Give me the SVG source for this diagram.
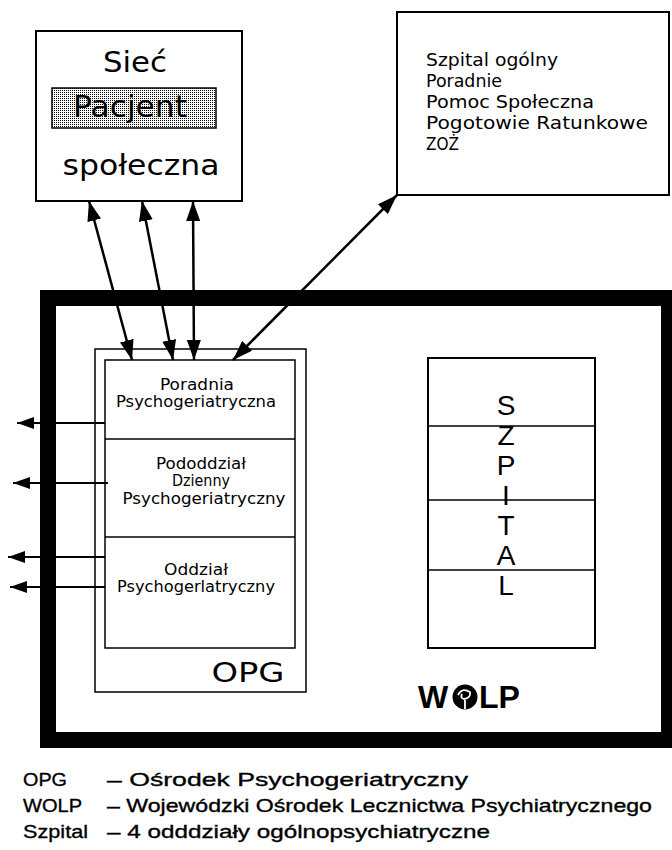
<svg xmlns="http://www.w3.org/2000/svg" width="672" height="850" viewBox="0 0 672 850">
<style>
.box{fill:#fff;stroke:#000;stroke-width:2}
.thin{fill:none;stroke:#000;stroke-width:1.5}
.g{font-family:"DejaVu Sans","Liberation Sans",sans-serif;fill:#000}
.leg{font-family:"Liberation Sans",Arial,sans-serif;font-size:19px;fill:#000;stroke:#000;stroke-width:0.35}
.conn{stroke:#000;stroke-width:2.5;fill:none}
.lconn{stroke:#000;stroke-width:2;fill:none}
</style>
<defs>
<pattern id="stip" width="2" height="2" patternUnits="userSpaceOnUse">
<rect width="2" height="2" fill="#fff"/>
<rect width="1" height="1" fill="#000"/>
</pattern>
<marker id="ah" markerUnits="userSpaceOnUse" markerWidth="20" markerHeight="14" refX="20" refY="7" orient="auto-start-reverse">
<path d="M0,0 L20,7 L0,14 z" fill="#000"/>
</marker>
<marker id="ahs" markerUnits="userSpaceOnUse" markerWidth="17" markerHeight="12" refX="17" refY="6" orient="auto">
<path d="M0,0 L17,6 L0,12 z" fill="#000"/>
</marker>
</defs>
<rect width="672" height="850" fill="#fff"/>

<g id="siec">
<rect class="box" x="36" y="31" width="206" height="170"/>
<text class="g" x="135" y="72" font-size="28" text-anchor="middle" textLength="64" lengthAdjust="spacingAndGlyphs">Sieć</text>
<rect x="52" y="88" width="164" height="40" fill="url(#stip)" stroke="#000" stroke-width="1.5"/>
<text class="g" x="130" y="117" font-size="30" text-anchor="middle" textLength="114" lengthAdjust="spacingAndGlyphs">Pacjent</text>
<text class="g" x="141" y="175" font-size="28" text-anchor="middle" textLength="157" lengthAdjust="spacingAndGlyphs">społeczna</text>
</g>

<g id="instytucje">
<rect class="box" x="397" y="12" width="272" height="183"/>
<g class="g" font-size="18">
<text x="426" y="66" textLength="132" lengthAdjust="spacingAndGlyphs">Szpital ogólny</text>
<text x="426" y="87" textLength="76" lengthAdjust="spacingAndGlyphs">Poradnie</text>
<text x="426" y="108" textLength="168" lengthAdjust="spacingAndGlyphs">Pomoc Społeczna</text>
<text x="426" y="129" textLength="222" lengthAdjust="spacingAndGlyphs">Pogotowie Ratunkowe</text>
<text x="426" y="150" textLength="33" lengthAdjust="spacingAndGlyphs">ZOŻ</text>
</g>
</g>

<g id="wolp">
<rect x="48" y="298" width="621" height="442" fill="none" stroke="#000" stroke-width="16"/>
<text x="418" y="708" font-family="'Liberation Sans',Arial,sans-serif" font-weight="bold" font-size="32" fill="#000">W</text>
<circle cx="465" cy="697" r="12.5" fill="#000"/>
<path d="M458,695 q4,-8 12,-3 q1,6 -6,7 q-4,-1 -2,-5 M465,700 v9" fill="none" stroke="#fff" stroke-width="1.8"/>
<text x="479" y="708" font-family="'Liberation Sans',Arial,sans-serif" font-weight="bold" font-size="32" fill="#000">LP</text>
</g>

<g id="opg">
<rect class="thin" x="95" y="349" width="211" height="343"/>
<rect class="thin" x="105" y="360" width="190" height="288"/>
<line class="thin" x1="105" y1="439" x2="295" y2="439"/>
<line class="thin" x1="105" y1="537" x2="295" y2="537"/>
<text class="g" x="248" y="682" font-size="27" text-anchor="middle" textLength="73" lengthAdjust="spacingAndGlyphs">OPG</text>
</g>

<g id="poradnia" class="g" font-size="15" text-anchor="middle">
<text x="197" y="389.5" textLength="74" lengthAdjust="spacingAndGlyphs">Poradnia</text>
<text x="196" y="407" textLength="160" lengthAdjust="spacingAndGlyphs">Psychogeriatryczna</text>
</g>
<g id="pododdzial" class="g" font-size="15" text-anchor="middle">
<text x="201" y="468.5" textLength="90" lengthAdjust="spacingAndGlyphs">Pododdział</text>
<text x="201" y="486" textLength="58" lengthAdjust="spacingAndGlyphs">Dzienny</text>
<text x="204" y="503.5" textLength="163" lengthAdjust="spacingAndGlyphs">Psychogeriatryczny</text>
</g>
<g id="oddzial" class="g" font-size="15" text-anchor="middle">
<text x="196" y="574.5" textLength="64" lengthAdjust="spacingAndGlyphs">Oddział</text>
<text x="196" y="592" textLength="158" lengthAdjust="spacingAndGlyphs">Psychogerlatryczny</text>
</g>

<g id="szpital">
<rect class="box" x="428" y="358" width="167" height="290"/>
<line class="thin" x1="428" y1="426" x2="595" y2="426"/>
<line class="thin" x1="428" y1="500" x2="595" y2="500"/>
<line class="thin" x1="428" y1="570" x2="595" y2="570"/>
<g font-family="'Liberation Sans',Arial,sans-serif" font-size="28" text-anchor="middle" fill="#000">
<text x="506" y="415">S</text>
<text x="506" y="445">Z</text>
<text x="506" y="475">P</text>
<text x="506" y="505">I</text>
<text x="506" y="535">T</text>
<text x="506" y="565">A</text>
<text x="506" y="595">L</text>
</g>
</g>

<g id="connectors">
<line class="conn" x1="89" y1="201" x2="132" y2="360" marker-start="url(#ah)" marker-end="url(#ah)"/>
<line class="conn" x1="142" y1="201" x2="173" y2="360" marker-start="url(#ah)" marker-end="url(#ah)"/>
<line class="conn" x1="193" y1="201" x2="194" y2="360" marker-start="url(#ah)" marker-end="url(#ah)"/>
<line class="conn" x1="397" y1="195" x2="233" y2="360" marker-start="url(#ah)" marker-end="url(#ah)"/>
<line class="lconn" x1="105" y1="423" x2="17" y2="423" marker-end="url(#ahs)"/>
<line class="lconn" x1="108" y1="483" x2="13" y2="483" marker-end="url(#ahs)"/>
<line class="lconn" x1="105" y1="557" x2="8" y2="557" marker-end="url(#ahs)"/>
<line class="lconn" x1="105" y1="587" x2="10" y2="587" marker-end="url(#ahs)"/>
</g>

<g id="legend" class="leg">
<text x="23" y="786" textLength="44" lengthAdjust="spacingAndGlyphs">OPG</text>
<text x="107" y="786" textLength="361" lengthAdjust="spacingAndGlyphs">– Ośrodek Psychogeriatryczny</text>
<text x="23" y="812" textLength="59" lengthAdjust="spacingAndGlyphs">WOLP</text>
<text x="107" y="812" textLength="545" lengthAdjust="spacingAndGlyphs">– Wojewódzki Ośrodek Lecznictwa Psychiatrycznego</text>
<text x="23" y="838" textLength="65" lengthAdjust="spacingAndGlyphs">Szpital</text>
<text x="107" y="838" textLength="383" lengthAdjust="spacingAndGlyphs">– 4 odddziały ogólnopsychiatryczne</text>
</g>
</svg>
